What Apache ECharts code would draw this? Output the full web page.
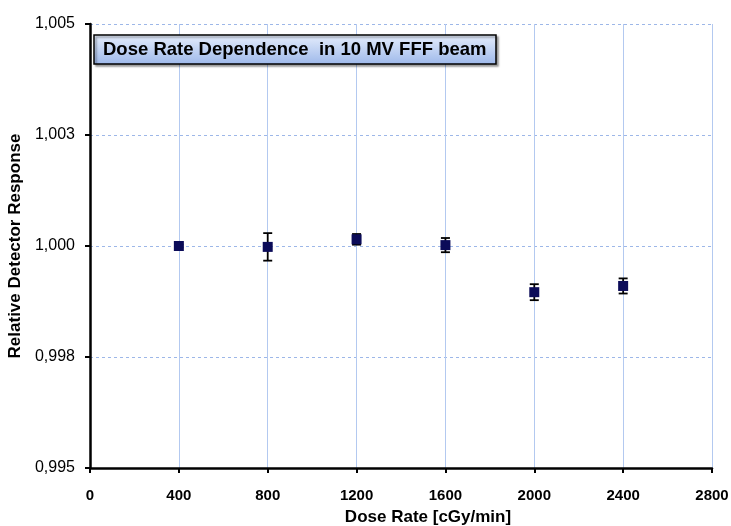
<!DOCTYPE html>
<html>
<head>
<meta charset="utf-8">
<script src="https://cdn.jsdelivr.net/npm/echarts@6/dist/echarts.min.js"></script>
<style>
html,body{margin:0;padding:0;background:#fff;}
#chart{width:731px;height:526px;}
</style>
</head>
<body>
<div id="chart"></div>
<script>
// Data
const doseRates = [400, 800, 1200, 1600, 2000, 2400];
const response  = [1.0000, 0.99998, 1.00015, 1.00002, 0.99896, 0.99910];
const errors    = [0.00003, 0.00031, 0.00012, 0.00016, 0.00018, 0.00017];
const yTickLabels = ["0,995", "0,998", "1,000", "1,003", "1,005"];
const titleText = "Dose Rate Dependence  in 10 MV FFF beam";
const xName = "Dose Rate [cGy/min]";
const yName = "Relative Detector Response";

const chart = echarts.init(document.getElementById('chart'));
const pts = doseRates.map((x, i) => [x, response[i]]);
const errData = doseRates.map((x, i) => [x, response[i] - errors[i], response[i] + errors[i]]);
const FONT = 'Liberation Sans, Arial, sans-serif';

const option = {
  animation: false,
  backgroundColor: '#fff',
  title: {
    text: titleText,
    left: 94, top: 35,
    padding: [5, 10, 5, 9],
    borderColor: '#000', borderWidth: 1.5,
    backgroundColor: new echarts.graphic.LinearGradient(0, 0, 0, 1, [
      {offset: 0, color: '#e6eefc'}, {offset: 1, color: '#9db8ea'}
    ]),
    shadowColor: 'rgba(0,0,0,0.35)', shadowOffsetX: 2, shadowOffsetY: 2, shadowBlur: 2,
    textStyle: {fontFamily: FONT, fontWeight: 'bold', fontSize: 18.5, color: '#000'}
  },
  grid: {left: 90, right: 19, top: 24, bottom: 58, containLabel: false, outerBoundsMode: 'none'},
  xAxis: {
    type: 'value', min: 0, max: 2800, interval: 400,
    name: xName, nameLocation: 'middle', nameGap: 41,
    nameTextStyle: {fontFamily: FONT, fontWeight: 'bold', fontSize: 17, color: '#000', padding: [0, 0, 0, 54]},
    axisLine: {show: true, lineStyle: {color: '#000', width: 2.5}},
    axisTick: {show: true, length: 5, lineStyle: {color: '#000', width: 2}},
    axisLabel: {fontFamily: FONT, fontSize: 15, fontWeight: 'bold', color: '#000', margin: 20, formatter: v => String(v)},
    splitLine: {show: true, lineStyle: {color: '#b3c9f0', width: 1, type: 'solid'}}
  },
  yAxis: {
    type: 'value', min: 0.995, max: 1.005, interval: 0.0025,
    name: yName, nameLocation: 'middle', nameGap: 60, nameRotate: 90,
    nameTextStyle: {fontFamily: FONT, fontWeight: 'bold', fontSize: 17, color: '#000'},
    axisLine: {show: true, lineStyle: {color: '#000', width: 2.5}},
    axisTick: {show: true, length: 5, lineStyle: {color: '#000', width: 2}},
    axisLabel: {
      fontFamily: FONT, fontSize: 16, color: '#000', margin: 15,
      formatter: v => yTickLabels[Math.round((v - 0.995) / 0.0025)]
    },
    splitLine: {show: true, lineStyle: {color: '#9db7e8', width: 1, type: [3, 3]}}
  },
  series: [
    {
      type: 'custom',
      data: errData,
      z: 3,
      renderItem: function (params, api) {
        const x = api.value(0);
        const lo = api.coord([x, api.value(1)]);
        const hi = api.coord([x, api.value(2)]);
        const hw = 4.5;
        const st = {stroke: '#000', lineWidth: 1.8};
        return {
          type: 'group',
          children: [
            {type: 'line', shape: {x1: lo[0], y1: lo[1], x2: hi[0], y2: hi[1]}, style: st},
            {type: 'line', shape: {x1: lo[0] - hw, y1: lo[1], x2: lo[0] + hw, y2: lo[1]}, style: st},
            {type: 'line', shape: {x1: hi[0] - hw, y1: hi[1], x2: hi[0] + hw, y2: hi[1]}, style: st}
          ]
        };
      }
    },
    {
      type: 'scatter',
      data: pts,
      symbol: 'rect',
      symbolSize: 10,
      z: 4,
      itemStyle: {color: '#0b0b58', opacity: 1}
    }
  ]
};
chart.setOption(option);
</script>
</body>
</html>
